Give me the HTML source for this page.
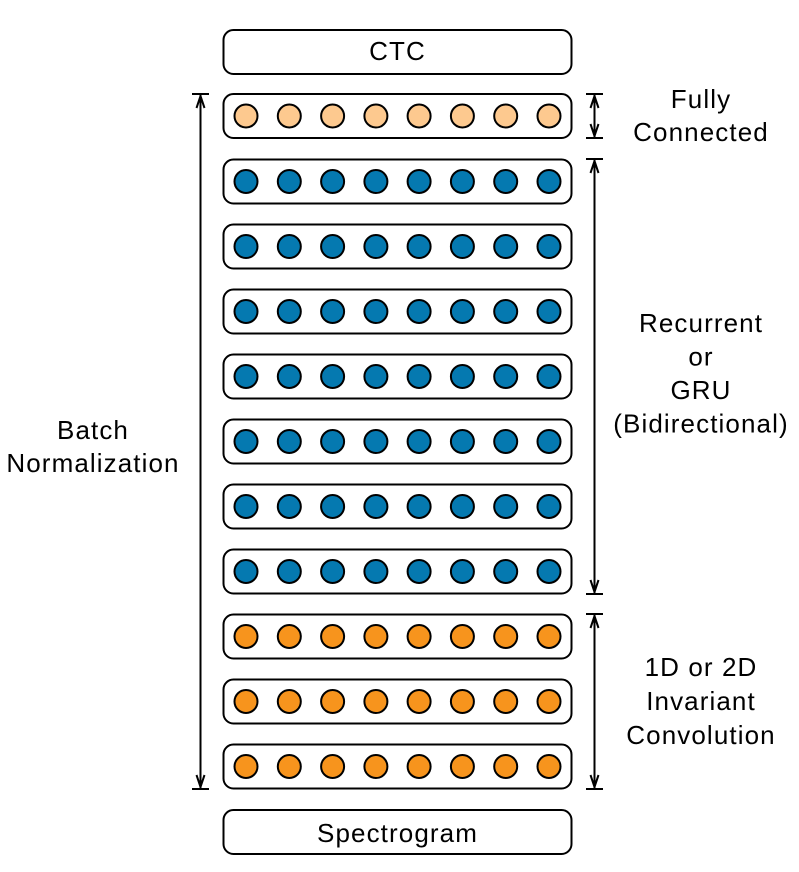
<!DOCTYPE html>
<html><head><meta charset="utf-8"><style>
html,body{margin:0;padding:0;background:#fff;}
svg{display:block;}
text{font-family:"Liberation Sans",Arial,sans-serif;font-size:26px;letter-spacing:1.1px;fill:#000;text-anchor:middle;}
</style></head><body>
<svg width="799" height="872" viewBox="0 0 799 872" xmlns="http://www.w3.org/2000/svg">
<defs>
<g id="c"><circle cx="246" cy="0" r="11.5"/><circle cx="289.3" cy="0" r="11.5"/><circle cx="332.6" cy="0" r="11.5"/><circle cx="375.9" cy="0" r="11.5"/><circle cx="419.1" cy="0" r="11.5"/><circle cx="462.4" cy="0" r="11.5"/><circle cx="505.7" cy="0" r="11.5"/><circle cx="549" cy="0" r="11.5"/></g>
<g id="row"><rect x="223.5" y="0" width="348" height="44" rx="10" fill="#fff" stroke="#000" stroke-width="2"/></g>
</defs>
<g stroke="#000" stroke-width="2">
<use href="#row" y="30"/>
<use href="#row" y="94"/>
<use href="#row" y="159.5"/>
<use href="#row" y="224.5"/>
<use href="#row" y="289.5"/>
<use href="#row" y="354.5"/>
<use href="#row" y="419.5"/>
<use href="#row" y="484.5"/>
<use href="#row" y="549.5"/>
<use href="#row" y="614.5"/>
<use href="#row" y="679.5"/>
<use href="#row" y="744.5"/>
<use href="#row" y="810"/>
</g>
<g stroke="#000" stroke-width="2">
<use href="#c" y="116" fill="#FDC98F"/>
<use href="#c" y="181.5" fill="#0579B0"/>
<use href="#c" y="246.5" fill="#0579B0"/>
<use href="#c" y="311.5" fill="#0579B0"/>
<use href="#c" y="376.5" fill="#0579B0"/>
<use href="#c" y="441.5" fill="#0579B0"/>
<use href="#c" y="506.5" fill="#0579B0"/>
<use href="#c" y="571.5" fill="#0579B0"/>
<use href="#c" y="636.5" fill="#F7941D"/>
<use href="#c" y="701.5" fill="#F7941D"/>
<use href="#c" y="766.5" fill="#F7941D"/>
</g>
<g stroke="#000" stroke-width="2" fill="none">
<line x1="192" y1="94" x2="209" y2="94"/><line x1="192" y1="789" x2="209" y2="789"/>
<line x1="200.5" y1="95" x2="200.5" y2="788"/>
<line x1="586" y1="94" x2="603" y2="94"/><line x1="586" y1="138" x2="603" y2="138"/>
<line x1="594.5" y1="95" x2="594.5" y2="137"/>
<line x1="586" y1="159" x2="603" y2="159"/><line x1="586" y1="594" x2="603" y2="594"/>
<line x1="594.5" y1="160" x2="594.5" y2="593"/>
<line x1="586" y1="614" x2="603" y2="614"/><line x1="586" y1="789" x2="603" y2="789"/>
<line x1="594.5" y1="615" x2="594.5" y2="788"/>
<polyline points="196.5,108 200.5,96 204.5,108"/><polyline points="196.5,775 200.5,787 204.5,775"/>
<polyline points="590.5,108 594.5,96 598.5,108"/><polyline points="590.5,124 594.5,136 598.5,124"/>
<polyline points="590.5,173 594.5,161 598.5,173"/><polyline points="590.5,580 594.5,592 598.5,580"/>
<polyline points="590.5,628 594.5,616 598.5,628"/><polyline points="590.5,775 594.5,787 598.5,775"/>
</g>
<text x="397.5" y="60">CTC</text>
<text x="397.5" y="842">Spectrogram</text>
<text x="701" y="108">Fully</text>
<text x="701" y="141">Connected</text>
<text x="701" y="332">Recurrent</text>
<text x="701" y="365.5">or</text>
<text x="701" y="399">GRU</text>
<text x="701" y="432.5">(Bidirectional)</text>
<text x="93" y="439">Batch</text>
<text x="93" y="472">Normalization</text>
<text x="701" y="676">1D or 2D</text>
<text x="701" y="710">Invariant</text>
<text x="701" y="744">Convolution</text>
</svg>
</body></html>
